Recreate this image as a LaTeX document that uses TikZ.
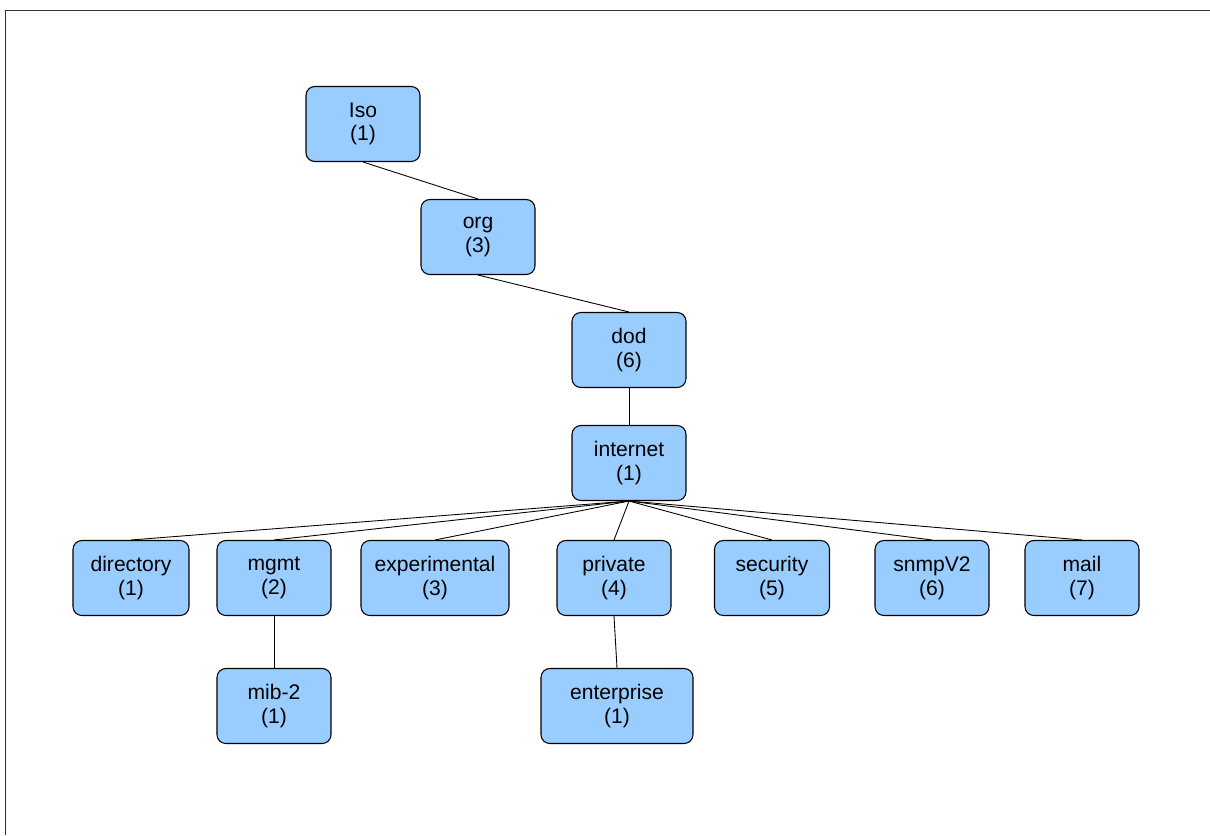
\documentclass[tikz,border=0pt]{standalone}
\usepackage{fontspec}
\setmainfont{Liberation Sans}
\usepackage{tikz}
\usetikzlibrary{positioning}
\definecolor{boxfill}{HTML}{99CCFF}
\definecolor{framec}{HTML}{333333}
\tikzset{
  oidbox/.style={draw=black,fill=boxfill,rounded corners=5pt,line width=0.6pt,
    align=center,minimum width=2.28cm,minimum height=1.5cm,inner sep=2pt,
    font=\fontsize{12}{13.5}\selectfont},
  link/.style={draw=black,line width=0.5pt}
}
\begin{document}
\begin{tikzpicture}[x=0.02cm,y=-0.02cm]
  \useasboundingbox (0,0) rectangle (1210,835);
  \draw[framec,line width=1pt] (5.5,835) -- (5.5,10.5) -- (1210,10.5);
  % upper chain
  \node[oidbox] (iso) at (363,124) {Iso\\(1)};
  \node[oidbox] (org) at (478,237) {org\\(3)};
  \node[oidbox] (dod) at (629,350) {dod\\(6)};
  \node[oidbox] (internet) at (629,463) {internet\\(1)};
  % children of internet
  \node[oidbox,minimum width=2.32cm] (directory) at (131,578) {directory\\(1)};
  \node[oidbox] (mgmt) at (274,578) {mgmt\\(2)};
  \node[oidbox,minimum width=2.96cm] (experimental) at (435,578) {experimental\\(3)};
  \node[oidbox] (private) at (614,578) {private\\(4)};
  \node[oidbox,minimum width=2.3cm] (security) at (772,578) {security\\(5)};
  \node[oidbox] (snmpv2) at (932,578) {snmpV2\\(6)};
  \node[oidbox] (mail) at (1082,578) {mail\\(7)};
  % leaves
  \node[oidbox] (mib2) at (274,706) {mib-2\\(1)};
  \node[oidbox,minimum width=3.04cm] (enterprise) at (617,706) {enterprise\\(1)};
  \draw[link] (iso.south) -- (org.north);
  \draw[link] (org.south) -- (dod.north);
  \draw[link] (dod.south) -- (internet.north);
  \foreach \c in {directory,mgmt,experimental,private,security,snmpv2,mail}
    \draw[link] (internet.south) -- (\c.north);
  \draw[link] (mgmt.south) -- (mib2.north);
  \draw[link] (private.south) -- (enterprise.north);
\end{tikzpicture}
\end{document}
